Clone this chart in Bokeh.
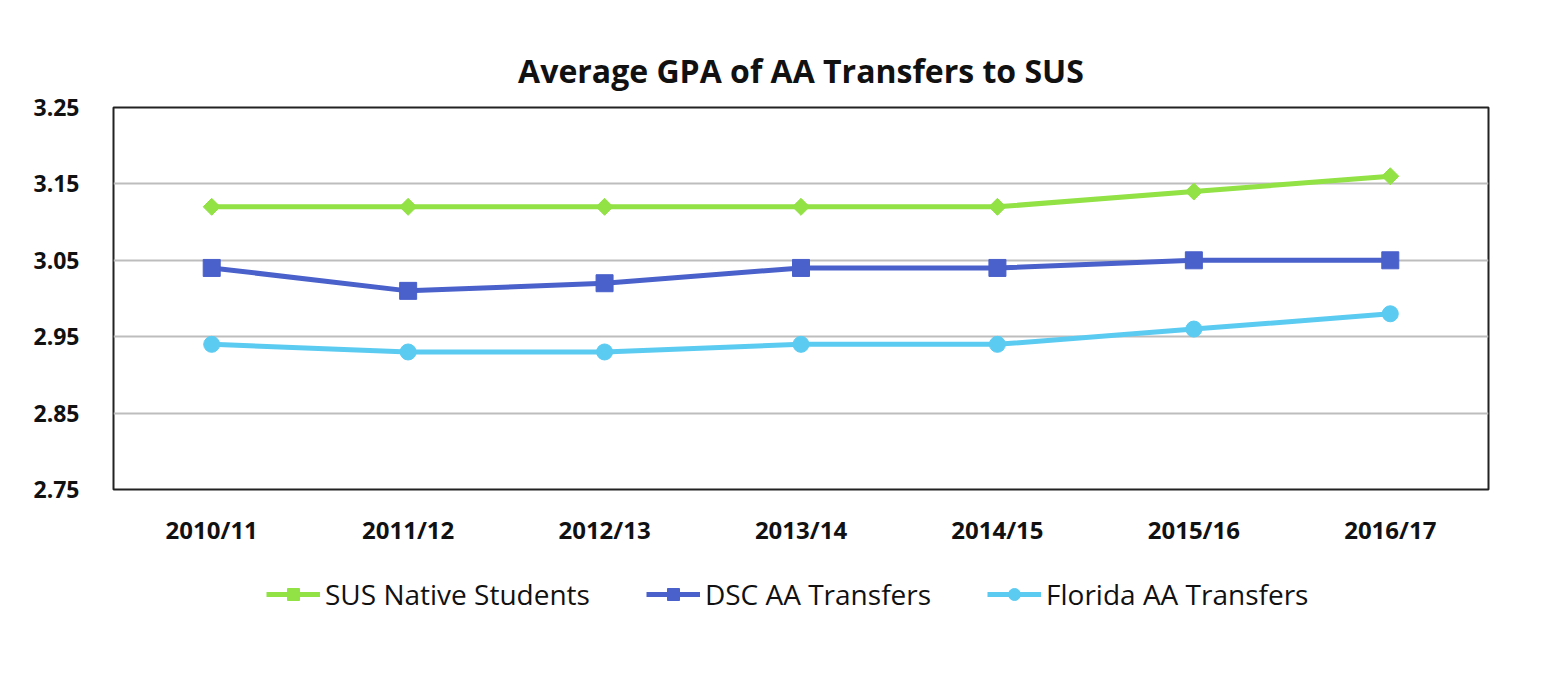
import math
from bokeh.plotting import figure
from bokeh.layouts import column
from bokeh.models import Legend, LegendItem, FixedTicker, Range1d, CustomJSTickFormatter
from bokeh.embed import file_html
from bokeh.resources import INLINE

years = ["2010/11", "2011/12", "2012/13", "2013/14", "2014/15", "2015/16", "2016/17"]
sus_native = [3.12, 3.12, 3.12, 3.12, 3.12, 3.14, 3.16]
dsc_aa = [3.04, 3.01, 3.02, 3.04, 3.04, 3.05, 3.05]
florida_aa = [2.94, 2.93, 2.93, 2.94, 2.94, 2.96, 2.98]
y_ticks = [2.75, 2.85, 2.95, 3.05, 3.15, 3.25]
series_names = ["SUS Native Students", "DSC AA Transfers", "Florida AA Transfers"]

GREEN = "#92E145"
BLUE = "#4A60CB"
LIGHT = "#5BCBF1"
FONT = "Open Sans"

p = figure(x_range=years, y_range=Range1d(2.75, 3.25), width=1552, height=560,
           output_backend="svg", toolbar_location=None,
           min_border_left=113, min_border_right=64, min_border_top=107, min_border_bottom=71)

p.title.text = "Average GPA of AA Transfers to SUS"
p.title.align = "center"
p.title.text_font = FONT
p.title.text_font_size = "32px"
p.title.text_font_style = "bold"
p.title.text_color = "#111111"
p.title.standoff = 31

p.outline_line_color = "#222222"
p.outline_line_width = 2
p.background_fill_color = "white"
p.border_fill_color = "white"

p.xgrid.grid_line_color = None
p.ygrid.grid_line_color = "#BDBDBD"
p.ygrid.grid_line_width = 2
p.yaxis.ticker = FixedTicker(ticks=y_ticks)
p.yaxis.formatter = CustomJSTickFormatter(code="return tick.toFixed(2);")

for ax in (p.xaxis[0], p.yaxis[0]):
    ax.axis_line_color = None
    ax.major_tick_line_color = None
    ax.minor_tick_line_color = None
    ax.major_label_text_font = FONT
    ax.major_label_text_font_style = "bold"
    ax.major_label_text_color = "#111111"
p.yaxis.major_label_text_font_size = "23px"
p.xaxis.major_label_text_font_size = "24px"
p.yaxis.major_label_standoff = 28
p.xaxis.major_label_standoff = 17

DIAMOND_ANGLE = math.pi / 4
p.line(years, sus_native, line_color=GREEN, line_width=5)
p.scatter(years, sus_native, marker="square", size=12, angle=DIAMOND_ANGLE, fill_color=GREEN, line_color=GREEN)
p.line(years, dsc_aa, line_color=BLUE, line_width=5)
p.scatter(years, dsc_aa, marker="square", size=17, fill_color=BLUE, line_color=BLUE)
p.line(years, florida_aa, line_color=LIGHT, line_width=5)
p.scatter(years, florida_aa, marker="circle", size=16, fill_color=LIGHT, line_color=LIGHT)

# legend strip below the chart
q = figure(x_range=Range1d(0, 1), y_range=Range1d(0, 1), width=1552, height=113,
           output_backend="svg", toolbar_location=None,
           x_axis_location=None, y_axis_location=None,
           min_border_left=0, min_border_right=0, min_border_top=0, min_border_bottom=0)
q.outline_line_color = None
q.xgrid.grid_line_color = None
q.ygrid.grid_line_color = None
nan = float("nan")
items = []
for name, col, mk, sz, ang in [(series_names[0], GREEN, "square", 10, DIAMOND_ANGLE),
                               (series_names[1], BLUE, "square", 14, 0.0),
                               (series_names[2], LIGHT, "circle", 14, 0.0)]:
    rl = q.line([nan], [nan], line_color=col, line_width=5)
    rm = q.scatter([nan], [nan], marker=mk, size=sz, angle=ang, fill_color=col, line_color=col)
    items.append(LegendItem(label=name, renderers=[rl, rm]))

legend = Legend(items=items, orientation="horizontal", location=(153, 60))
legend.label_text_font = FONT
legend.label_text_font_size = "28px"
legend.label_text_color = "#111111"
legend.glyph_width = 54
legend.glyph_height = 30
legend.label_height = 30
legend.label_standoff = 5
legend.spacing = 56
legend.border_line_color = None
legend.background_fill_alpha = 0
legend.margin = 0
legend.padding = 0
q.add_layout(legend, "center")

layout = column(p, q, spacing=0)
open("out.html", "w").write(file_html(layout, INLINE))
